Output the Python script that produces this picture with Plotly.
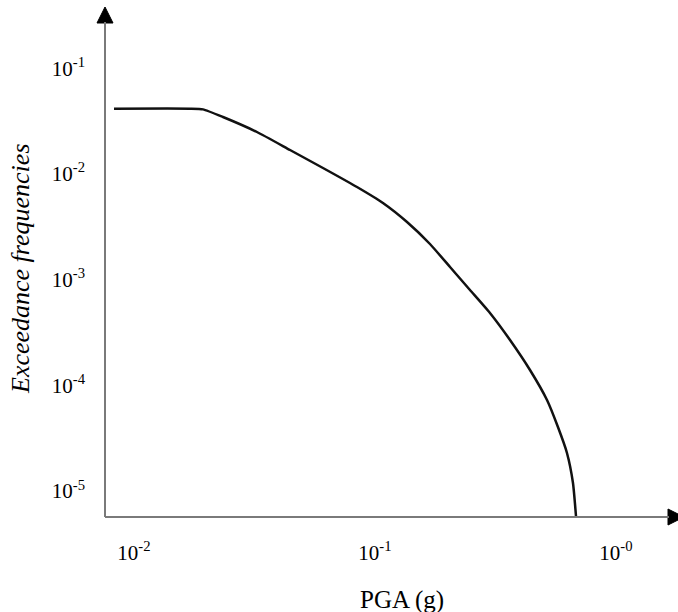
import plotly.graph_objects as go

# Hazard curve (PGA in g, annual exceedance frequency)
pga = [0.00826, 0.01708, 0.01933, 0.02340, 0.03238, 0.04441, 0.06084, 0.08420,
       0.1079, 0.1358, 0.1691, 0.2048, 0.2478, 0.3000, 0.3633, 0.4397, 0.5173,
       0.5743, 0.6260, 0.6630, 0.6823]
freq = [0.0414, 0.0414, 0.0408, 0.03453, 0.02491, 0.01683, 0.01137, 0.007516,
        0.005305, 0.003506, 0.002172, 0.001316, 0.000797, 0.000483, 0.000268,
        0.0001395, 7.26e-5, 4.03e-5, 2.29e-5, 1.19e-5, 5.8e-6]

x_tickvals = [0.01, 0.1, 1.0]
x_ticktext = ["10<sup>-2</sup>", "10<sup>-1</sup>", "10<sup>-0</sup>"]
y_tickvals = [1e-1, 1e-2, 1e-3, 1e-4, 1e-5]
y_ticktext = ["10<sup>-1</sup>", "10<sup>-2</sup>", "10<sup>-3</sup>",
              "10<sup>-4</sup>", "10<sup>-5</sup>"]

x_title = "PGA (g)"
y_title = "Exceedance frequencies"

W, H = 678, 612
ML, MR, MT, MB = 105, 10, 15, 95
PW = W - ML - MR
PH = H - MT - MB

FONT = "Liberation Serif, Times New Roman, serif"
AXIS_COLOR = "#7a7a7a"
TEXT_COLOR = "#000000"

fig = go.Figure()
fig.add_trace(go.Scatter(x=pga, y=freq, mode="lines",
                         line=dict(color="#111111", width=2.5, shape="spline", smoothing=0.5),
                         showlegend=False, hoverinfo="skip"))

def px_x(p):
    return (p - ML) / PW

def px_y(p):
    return (H - MB - p) / PH

shapes = [
    # arrow head on y axis
    dict(type="path", xref="paper", yref="paper",
         path=f"M {px_x(97)} {px_y(23)} L {px_x(105)} {px_y(7)} L {px_x(113)} {px_y(23)} Z",
         fillcolor="black", line=dict(color="black", width=1)),
    # arrow head on x axis
    dict(type="path", xref="paper", yref="paper",
         path=f"M {px_x(668)} {px_y(509)} L {px_x(684)} {px_y(517)} L {px_x(668)} {px_y(525)} Z",
         fillcolor="black", line=dict(color="black", width=1)),
    # y axis line up to the arrow
    dict(type="line", xref="paper", yref="paper",
         x0=px_x(105), x1=px_x(105), y0=px_y(517), y1=px_y(22),
         line=dict(color=AXIS_COLOR, width=2)),
    # x axis line to the arrow
    dict(type="line", xref="paper", yref="paper",
         x0=px_x(105), x1=px_x(669), y0=px_y(517), y1=px_y(517),
         line=dict(color=AXIS_COLOR, width=2)),
]

annotations = [
    dict(text=y_title, xref="paper", yref="paper", x=px_x(20), y=px_y(269),
         showarrow=False, textangle=-90, xanchor="center", yanchor="middle",
         font=dict(family=FONT, size=26, color=TEXT_COLOR, style="italic")),
    dict(text=x_title, xref="paper", yref="paper", x=px_x(402), y=px_y(600),
         showarrow=False, xanchor="center", yanchor="middle",
         font=dict(family=FONT, size=25, color=TEXT_COLOR)),
]

fig.update_layout(
    width=W, height=H,
    margin=dict(l=ML, r=MR, t=MT, b=MB),
    paper_bgcolor="white", plot_bgcolor="white",
    shapes=shapes, annotations=annotations,
    xaxis=dict(type="log", range=[-2.1203, 0.2158],
               tickvals=x_tickvals, ticktext=x_ticktext,
               showgrid=False, zeroline=False, showline=False, ticks="",
               ticklabelstandoff=21,
               tickfont=dict(family=FONT, size=21, color=TEXT_COLOR)),
    yaxis=dict(type="log", range=[-5.246, -0.4967],
               tickvals=y_tickvals, ticktext=y_ticktext,
               showgrid=False, zeroline=False, showline=False, ticks="",
               ticklabelstandoff=19,
               tickfont=dict(family=FONT, size=21, color=TEXT_COLOR)),
)

fig.write_html("out.html",
               config={"displayModeBar": False},
               post_script="document.body.style.margin='0';document.body.style.padding='0';"
                           "document.body.style.overflow='hidden';")
